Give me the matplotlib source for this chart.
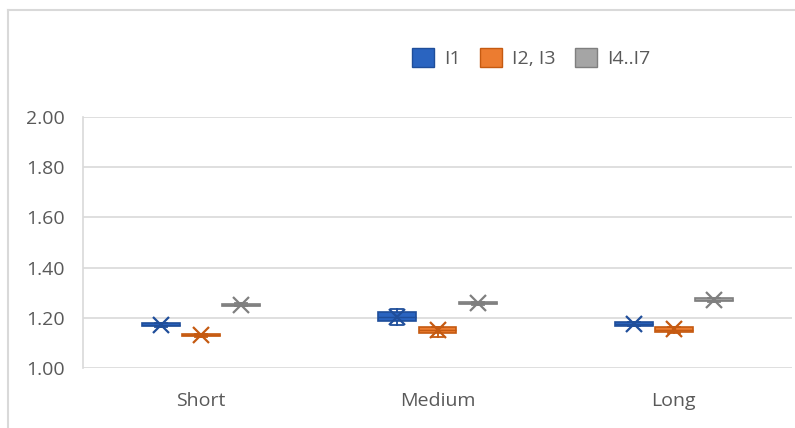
import matplotlib
matplotlib.use("Agg")
import matplotlib.pyplot as plt
from matplotlib.patches import Patch
from matplotlib.lines import Line2D

plt.rcParams['font.family'] = ['Open Sans', 'DejaVu Sans']

categories = ["Short", "Medium", "Long"]
series = ["I1", "I2, I3", "I4..I7"]

# Box statistics per series, one value per category
whislo = {"I1": [1.166, 1.173, 1.168], "I2, I3": [1.126, 1.124, 1.141], "I4..I7": [1.246, 1.253, 1.265]}
q1     = {"I1": [1.167, 1.187, 1.169], "I2, I3": [1.128, 1.140, 1.145], "I4..I7": [1.247, 1.255, 1.267]}
med    = {"I1": [1.173, 1.205, 1.177], "I2, I3": [1.132, 1.151, 1.154], "I4..I7": [1.252, 1.259, 1.272]}
q3     = {"I1": [1.181, 1.224, 1.184], "I2, I3": [1.137, 1.163, 1.163], "I4..I7": [1.257, 1.264, 1.279]}
whishi = {"I1": [1.182, 1.236, 1.185], "I2, I3": [1.138, 1.164, 1.164], "I4..I7": [1.258, 1.265, 1.280]}
means  = {"I1": [1.173, 1.204, 1.176], "I2, I3": [1.132, 1.151, 1.155], "I4..I7": [1.252, 1.260, 1.273]}

fills = {"I1": "#2A64C0", "I2, I3": "#EC7C30", "I4..I7": "#A5A5A5"}
edges = {"I1": "#1F4E9A", "I2, I3": "#C55A11", "I4..I7": "#7F7F7F"}

fig = plt.figure(figsize=(7.95, 4.28), dpi=100)
ax = fig.add_axes([83 / 795, 1 - 368.3 / 428, (792 - 83) / 795, (368.3 - 116.7) / 428])

offsets = [-0.17, 0.0, 0.17]
for s, off in zip(series, offsets):
    stats = []
    for i in range(len(categories)):
        stats.append(dict(whislo=whislo[s][i], q1=q1[s][i], med=med[s][i], q3=q3[s][i],
                          whishi=whishi[s][i], mean=means[s][i], fliers=[]))
    pos = [i + 0.5 + off for i in range(len(categories))]
    ax.bxp(stats, positions=pos, widths=0.16, patch_artist=True, showmeans=True,
           boxprops=dict(facecolor=fills[s], edgecolor=edges[s], linewidth=1.2),
           medianprops=dict(color=edges[s], linewidth=1.0),
           whiskerprops=dict(color=edges[s], linewidth=1.3),
           capprops=dict(color=edges[s], linewidth=1.3),
           capwidths=0.05,
           meanprops=dict(marker='x', markersize=12, markeredgecolor=edges[s],
                          markeredgewidth=1.6, markerfacecolor='none'),
           manage_ticks=False, zorder=3)

ax.set_xlim(0, 3)
ax.set_ylim(1.0, 2.0)
yticks = [1.0, 1.2, 1.4, 1.6, 1.8, 2.0]
ax.set_yticks(yticks)
ax.set_yticklabels([f"{v:.2f}" for v in yticks])
ax.set_xticks([0.5, 1.5, 2.5])
ax.set_xticklabels(categories)
ax.tick_params(axis='both', length=0, labelsize=14, labelcolor='#595959')
ax.tick_params(axis='y', pad=13)
ax.tick_params(axis='x', pad=17)
ax.yaxis.grid(True, color='#D9D9D9', linewidth=1.2, zorder=0)
ax.set_axisbelow(True)
for sp in ['top', 'right', 'bottom']:
    ax.spines[sp].set_visible(False)
ax.spines['left'].set_color('#D9D9D9')
ax.spines['left'].set_linewidth(1.2)

# chart area border
fig.add_artist(Line2D([8 / 795, 8 / 795], [0, 1 - 10 / 428], color='#D9D9D9', linewidth=1.5))
fig.add_artist(Line2D([8 / 795, 1], [1 - 10 / 428, 1 - 10 / 428], color='#D9D9D9', linewidth=1.5))

handles = [Patch(facecolor=fills[s], edgecolor=edges[s], linewidth=1.0) for s in series]
fig.legend(handles, series, loc='center', bbox_to_anchor=(531 / 795, 1 - 58 / 428), ncol=3,
           frameon=False, fontsize=14, labelcolor='#595959', handlelength=1.15,
           handleheight=1.15, handletextpad=0.5, columnspacing=1.0)

fig.savefig("out.png", dpi=100, facecolor='white')
